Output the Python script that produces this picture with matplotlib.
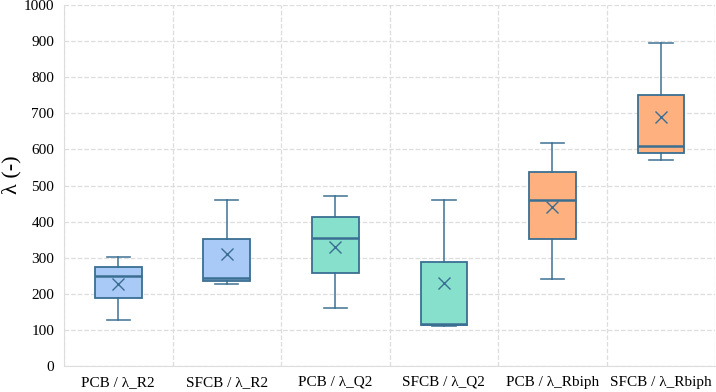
import matplotlib
matplotlib.use("Agg")
import matplotlib.pyplot as plt

plt.rcParams["font.family"] = ["Liberation Serif", "DejaVu Serif"]

# data
labels = ["PCB / λ_R2", "SFCB / λ_R2", "PCB / λ_Q2",
          "SFCB / λ_Q2", "PCB / λ_Rbiph", "SFCB / λ_Rbiph"]
whislo = [127, 228, 160, 112, 240, 571]
q1 = [188, 236, 257, 114, 351, 591]
med = [249, 244, 355, 116, 460, 610]
q3 = [275, 351, 413, 288, 538, 751]
whishi = [302, 460, 472, 460, 619, 895]
mean = [226, 310, 329, 230, 440, 691]

fills = ["#a9c9f7", "#a9c9f7", "#86e0cc", "#86e0cc", "#ffb07f", "#ffb07f"]
edge = "#3a6f92"

stats = []
for i in range(len(labels)):
    stats.append(dict(label=labels[i], whislo=whislo[i], q1=q1[i], med=med[i],
                      q3=q3[i], whishi=whishi[i], mean=mean[i], fliers=[]))

fig = plt.figure(figsize=(7.16, 3.92), dpi=100)
ax = fig.add_axes([0.0894, 0.0663, 0.9096, 0.9207])

bp = ax.bxp(stats, positions=range(len(labels)), widths=0.43,
            patch_artist=True, showmeans=True,
            boxprops=dict(edgecolor=edge, linewidth=1.3),
            medianprops=dict(color=edge, linewidth=1.8),
            whiskerprops=dict(color=edge, linewidth=1.2, alpha=0.9),
            capprops=dict(color=edge, linewidth=1.2, alpha=0.9),
            meanprops=dict(marker="x", markeredgecolor=edge,
                           markersize=8, markeredgewidth=1.0))
for patch, c in zip(bp["boxes"], fills):
    patch.set_facecolor(c)

ax.set_xlim(-0.5, len(labels) - 0.5)
ax.set_ylim(0, 1000)
ax.set_yticks(range(0, 1001, 100))
ax.set_xticks(range(len(labels)))
ax.set_xticklabels(labels)
ax.set_xticks([i + 0.5 for i in range(-1, len(labels))], minor=True)
ax.tick_params(axis="x", which="minor", length=0)
ax.tick_params(axis="y", which="major", length=0, labelsize=11, pad=7)
ax.tick_params(axis="x", which="major", length=0, labelsize=11, pad=7)

ax.grid(False)
ax.grid(True, which="minor", axis="x", linestyle="--", color="#dddddd", linewidth=0.9)
ax.grid(True, which="major", axis="y", linestyle="--", color="#dddddd", linewidth=0.9)
ax.set_axisbelow(True)

for s in ["top", "right"]:
    ax.spines[s].set_visible(False)
for s in ["left", "bottom"]:
    ax.spines[s].set_color("#dddddd")

ax.set_ylabel("λ (-)", fontsize=16)
ax.yaxis.set_label_coords(-0.066, 0.53)

fig.savefig("out.png", dpi=100)
